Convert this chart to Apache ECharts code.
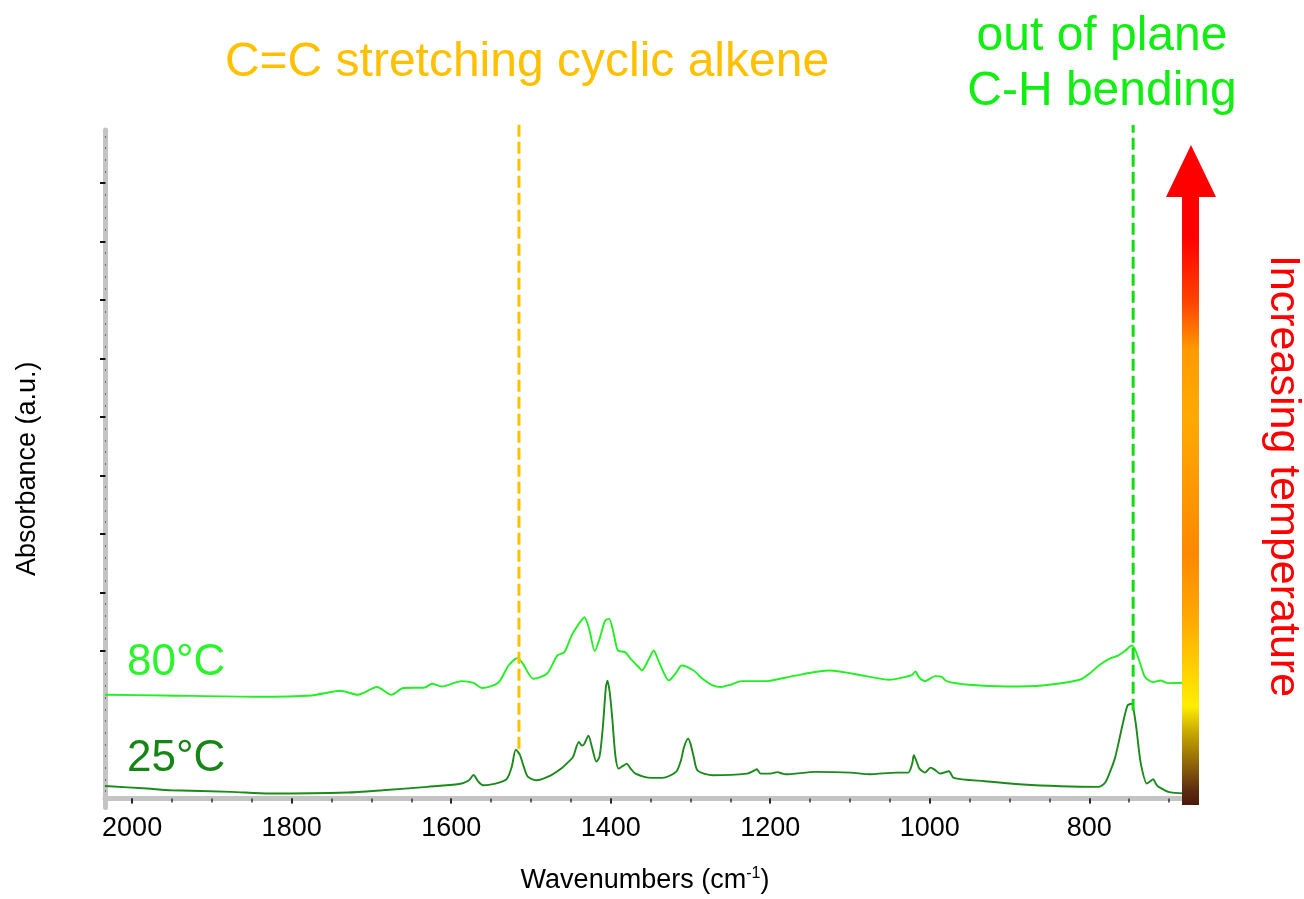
<!DOCTYPE html>
<html>
<head>
<meta charset="utf-8">
<script src="https://cdn.jsdelivr.net/npm/echarts@6/dist/echarts.min.js"></script>
<style>html,body{margin:0;padding:0;background:#fff;}#c{width:1304px;height:899px;}</style>
</head>
<body>
<div id="c"></div>
<script>
// ---- data ----
const xTickLabels = [2000, 1800, 1600, 1400, 1200, 1000, 800];
const wn25 = [2034,1981,1951,1876,1828,1730,1686,1630,1590,1578,1572,1566,1560,1540,1530,1524,1519,1514,1509,1504,1493,1475,1462,1453,1447,1440,1436,1433,1428,1423,1418,1414,1410,1406,1404,1401,1398,1394,1390,1384,1380,1375,1369,1349,1335,1318,1312,1308,1303,1300,1296,1291,1272,1229,1220,1217,1212,1200,1191,1185,1181,1143,1099,1075,1042,1027,1022,1020,1016,1013,1006,999,994,987,976,970,931,883,836,788,780,774,768,764,758,752,747,742,738,735,728,724,720,716,713,701,680];
const abs25 = [12.5,10,8.3,6.7,5,6,8.3,11.7,14.5,18,23.5,17,13.3,16,20,32,49,44,32,22,18.3,23.3,30,36.7,42,56.7,53,55,63,50,37,42,70,112,118,105,80,42,30,33,35,30,25,20.7,20.7,26.7,38,51.7,60,55,42,28,23.3,25,28,29.3,25,25,26.5,25,24.3,26.7,26,24.3,26,26,35,43.3,36,30,26,31,29,25,27.3,20.7,17.3,14,12.3,11.7,16,26.7,40,53.3,75,93.3,95,76.7,50,33.3,15,17,19.3,14,11.7,6.7,5];
const wn80 = [2034,1960,1845,1775,1739,1717,1693,1675,1660,1633,1624,1612,1587,1572,1561,1541,1528,1517,1510,1497,1480,1467,1458,1449,1440,1433,1427,1420,1414,1407,1402,1397,1391,1382,1375,1363,1361,1352,1346,1340,1327,1318,1311,1296,1285,1272,1262,1250,1236,1205,1172,1126,1080,1051,1032,1022,1018,1013,1006,993,985,979,951,903,859,812,800,788,775,764,755,747,742,736,730,720,711,701,682];
const abs80 = [104,103.3,102,103.3,108,104,111.7,104,110.7,111.3,115,112.3,117.7,116,110.7,116,133.3,140.7,135,120,125,143.3,146.7,163.3,175,181.7,170,147.7,160,178.3,180,168,148.3,146.7,140,130,128.3,140,148.3,138,118.3,126,133.3,128.3,120,113.3,111.7,114,117.7,117.7,122.7,128.3,122.7,119,121.7,124,127.3,121,117.7,122.7,122,117.7,114,112.3,113.3,119,125,133.3,140,143.3,148,153.3,148.3,135,121.7,116.7,118.3,115.7,116];
const seriesNames = ['25°C', '80°C'];
const ccLineX = [1515, 1515];   // C=C stretching marker
const ccLineY = [50, 680];
const chLineX = [745, 745];     // out of plane C-H bending marker
const chLineY = [88, 675];

const X_MIN = 680, X_MAX = 2034, Y_MIN = -9, Y_MAX = 670;

const majorX = xTickLabels;
const minorX = [];
for (let v = 700; v <= 2000; v += 50) minorX.push(v);
const majorY = [];
for (let k = 0; k <= 8; k++) majorY.push(+(148 + 58.6 * k).toFixed(2));
const minorY = [];
for (let v = 148 - 11.72 * 12; v < 668; v += 11.72) minorY.push(+v.toFixed(2));

const pair = (xs, ys) => xs.map((x, i) => [x, ys[i]]);
const FONT = '"Liberation Sans", Arial, sans-serif';

const chart = echarts.init(document.getElementById('c'), null, {renderer: 'canvas'});
chart.setOption({
  backgroundColor: '#ffffff',
  animation: false,
  grid: {left: 105, right: 119, top: 130, bottom: 90, containLabel: false},
  xAxis: [{
    type: 'value', min: X_MIN, max: X_MAX, inverse: true,
    name: '{a|Wavenumbers (cm}{s|-1}{a|)}',
    nameLocation: 'middle', nameGap: 58,
    nameTextStyle: {rich: {a: {fontSize: 27, fontFamily: FONT, color: '#000'}, s: {fontSize: 16, fontFamily: FONT, color: '#000', verticalAlign: 'top', padding: [0, 0, 14, 0]}}},
    axisLine: {show: true, lineStyle: {color: '#c4c4c4', width: 5}},
    axisTick: {show: true, customValues: majorX, length: 5, lineStyle: {color: '#111', width: 2}},
    axisLabel: {show: true, customValues: majorX, fontSize: 27, fontFamily: FONT, color: '#000', margin: 8, formatter: v => String(v)},
    splitLine: {show: false}
  }, {
    type: 'value', min: X_MIN, max: X_MAX, inverse: true, position: 'bottom',
    axisLine: {show: false},
    axisTick: {show: true, customValues: minorX, length: 4, lineStyle: {color: '#333', width: 1.5}},
    axisLabel: {show: false},
    splitLine: {show: false}
  }],
  yAxis: [{
    type: 'value', min: Y_MIN, max: Y_MAX,
    name: 'Absorbance (a.u.)', nameLocation: 'middle', nameGap: 64,
    nameTextStyle: {fontSize: 27, fontFamily: FONT, color: '#000'},
    axisLine: {show: true, lineStyle: {color: '#c4c4c4', width: 5}},
    axisTick: {show: true, customValues: majorY, length: 5, lineStyle: {color: '#111', width: 2}},
    axisLabel: {show: false},
    splitLine: {show: false}
  }, {
    type: 'value', min: Y_MIN, max: Y_MAX, position: 'left',
    axisLine: {show: false},
    axisTick: {show: true, customValues: minorY, length: 1, inside: true, lineStyle: {color: '#555', width: 1.5}},
    axisLabel: {show: false},
    splitLine: {show: false}
  }],
  series: [{
    name: seriesNames[0], type: 'line', data: pair(wn25, abs25),
    symbol: 'none', smooth: 0.25,
    lineStyle: {color: '#1a8a1a', width: 1.9},
    z: 3
  }, {
    name: seriesNames[1], type: 'line', data: pair(wn80, abs80),
    symbol: 'none', smooth: 0.25,
    lineStyle: {color: '#22f022', width: 1.9},
    z: 3
  }, {
    name: 'C=C', type: 'line', data: pair(ccLineX, ccLineY), clip: false,
    symbol: 'none', silent: true,
    lineStyle: {color: '#ffc000', width: 3, type: [12, 5]},
    z: 4
  }, {
    name: 'C-H', type: 'line', data: pair(chLineX, chLineY), clip: false,
    symbol: 'none', silent: true,
    lineStyle: {color: '#11dd11', width: 3, type: [12, 5]},
    z: 4
  }],
  graphic: [
    {type: 'text', x: 527, y: 63, style: {text: 'C=C stretching cyclic alkene', font: '48px ' + FONT, fill: '#ffc000', align: 'center', verticalAlign: 'middle'}},
    {type: 'text', x: 1102, y: 37, style: {text: 'out of plane', font: '48px ' + FONT, fill: '#11ee11', align: 'center', verticalAlign: 'middle'}},
    {type: 'text', x: 1102, y: 92, style: {text: 'C-H bending', font: '48px ' + FONT, fill: '#11ee11', align: 'center', verticalAlign: 'middle'}},
    {type: 'text', x: 127, y: 663, style: {text: seriesNames[1], font: '44px ' + FONT, fill: '#2af52a', align: 'left', verticalAlign: 'middle'}},
    {type: 'text', x: 127, y: 759, style: {text: seriesNames[0], font: '44px ' + FONT, fill: '#158515', align: 'left', verticalAlign: 'middle'}},
    {type: 'text', x: 1283, y: 476, rotation: -Math.PI / 2, style: {text: 'Increasing temperature', font: '43px ' + FONT, fill: '#ff0000', align: 'center', verticalAlign: 'middle'}},
    {type: 'polygon', z: 10,
      shape: {points: [[1191, 145], [1216, 197], [1199, 197], [1199, 805], [1182, 805], [1182, 197], [1166, 197]]},
      style: {fill: new echarts.graphic.LinearGradient(0, 0, 0, 1, [
        {offset: 0, color: '#ff0000'},
        {offset: 0.14, color: '#ff0000'},
        {offset: 0.24, color: '#ff4500'},
        {offset: 0.31, color: '#ff9a00'},
        {offset: 0.41, color: '#ffaa00'},
        {offset: 0.62, color: '#ff8800'},
        {offset: 0.72, color: '#ffaa00'},
        {offset: 0.85, color: '#ffee00'},
        {offset: 0.89, color: '#c8a800'},
        {offset: 0.98, color: '#5a2a10'},
        {offset: 1, color: '#4a1a0a'}
      ])}
    }
  ]
});
</script>
</body>
</html>
